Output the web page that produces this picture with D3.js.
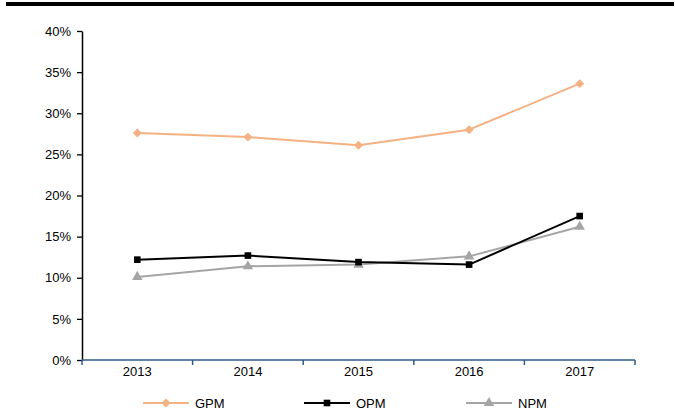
<!DOCTYPE html>
<html>
<head>
<meta charset="utf-8">
<script src="https://cdn.jsdelivr.net/npm/d3@7"></script>
<style>
  html, body { margin: 0; padding: 0; background: #fff; }
  svg { display: block; font-family: "Liberation Sans", Arial, sans-serif; }
</style>
</head>
<body>
<svg id="chart" width="675" height="412"></svg>
<script>
// Margin ratios by year (%)
const years = ["2013", "2014", "2015", "2016", "2017"];
const gpm = [27.6, 27.1, 26.1, 28.0, 33.6];
const opm = [12.2, 12.7, 11.9, 11.6, 17.5];
const npm = [10.1, 11.4, 11.6, 12.6, 16.2];
const yTicks = [0, 5, 10, 15, 20, 25, 30, 35, 40];

// Diamond drawn as a square turned 45 degrees (equal width and height)
const squareDiamond = {
  draw(ctx, size) {
    const r = Math.sqrt(size / 2);
    ctx.moveTo(0, -r); ctx.lineTo(r, 0); ctx.lineTo(0, r); ctx.lineTo(-r, 0); ctx.closePath();
  }
};

const series = [
  { name: "GPM", values: gpm, color: "#F4B183", symbol: squareDiamond, size: 40 },
  { name: "OPM", values: opm, color: "#000000", symbol: d3.symbolSquare, size: 44 },
  { name: "NPM", values: npm, color: "#A5A5A5", symbol: d3.symbolTriangle, size: 48 }
];

const svg = d3.select("#chart");
const plot = { left: 82, right: 635, top: 31, bottom: 360 };

// Heading rule across the top
svg.append("rect").attr("x", 6).attr("y", 2).attr("width", 668).attr("height", 4).attr("fill", "#000");

const x = d3.scaleBand().domain(years).range([plot.left, plot.right]);
const y = d3.scaleLinear().domain([0, 40]).range([plot.bottom, plot.top]);

// Y axis
const yAxis = svg.append("g")
  .attr("transform", `translate(${plot.left},0)`)
  .call(d3.axisLeft(y).tickValues(yTicks).tickSize(5).tickSizeOuter(0).tickPadding(6).tickFormat(d => d + "%"));
yAxis.select(".domain").attr("stroke", "#000").attr("stroke-width", 1.5);
yAxis.selectAll(".tick line").attr("stroke", "#000").attr("stroke-width", 1.3);
yAxis.selectAll("text").attr("font-size", 13).attr("fill", "#000");

// X axis with ticks at category boundaries
const xAxis = svg.append("g")
  .attr("transform", `translate(0,${plot.bottom})`)
  .call(d3.axisBottom(x).tickSize(0).tickPadding(7));
xAxis.select(".domain").remove();
xAxis.selectAll("text").attr("font-size", 13).attr("fill", "#000");
xAxis.append("line")
  .attr("x1", plot.left).attr("x2", plot.right)
  .attr("stroke", "#2E5C8A").attr("stroke-width", 1.5);
const bounds = years.map(d => x(d)).concat([x(years[years.length - 1]) + x.bandwidth()]);
xAxis.selectAll(".bnd").data(bounds).enter().append("line")
  .attr("x1", d => d).attr("x2", d => d).attr("y1", 0).attr("y2", 5)
  .attr("stroke", "#2E5C8A").attr("stroke-width", 1.5);

const cx = d => x(d) + x.bandwidth() / 2;
const line = d3.line().x((d, i) => cx(years[i])).y(d => y(d));

// Draw series (NPM first, so OPM and GPM sit on top)
const order = [series[2], series[1], series[0]];
order.forEach(s => {
  const g = svg.append("g");
  g.append("path").datum(s.values).attr("d", line)
    .attr("fill", "none").attr("stroke", s.color).attr("stroke-width", 2).attr("stroke-linejoin", "round");
  g.selectAll("path.mk").data(s.values).enter().append("path")
    .attr("class", "mk")
    .attr("d", d3.symbol().type(s.symbol).size(s.size))
    .attr("transform", (d, i) => `translate(${cx(years[i])},${y(d)})`)
    .attr("fill", s.color);
});

// Legend
const legendX = [143, 304, 466];
const legendY = 403;
series.forEach((s, i) => {
  const g = svg.append("g").attr("transform", `translate(${legendX[i]},${legendY})`);
  g.append("line").attr("x1", 0).attr("x2", 46).attr("stroke", s.color).attr("stroke-width", 2);
  g.append("path").attr("d", d3.symbol().type(s.symbol).size(s.size)).attr("transform", "translate(23,0)").attr("fill", s.color);
  g.append("text").attr("x", 52).attr("y", 0).attr("dy", "0.35em").attr("font-size", 13).attr("fill", "#000").text(s.name);
});
</script>
</body>
</html>
